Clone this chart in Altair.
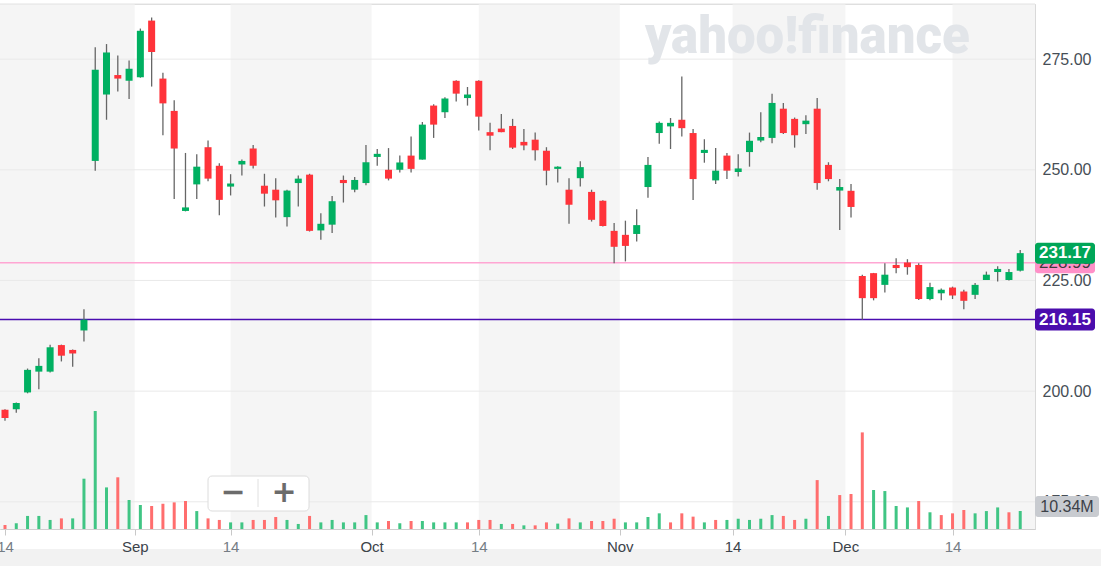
import altair as alt
import pandas as pd

# ---------------- data ----------------
opens = [195.8, 195.9, 199.7, 204.4, 204.4, 210.4, 209.3, 213.7, 252.0, 267.0,
         271.4, 270.1, 270.9, 283.7, 270.6, 263.3, 240.7, 246.7, 255.1, 250.9,
         246.2, 251.2, 254.8, 246.4, 245.5, 239.3, 247.0, 248.9, 236.3, 237.6,
         247.7, 245.5, 247.0, 252.9, 250.0, 250.0, 253.2, 252.3, 264.5, 263.0,
         270.1, 266.2, 270.1, 258.5, 259.3, 259.9, 256.3, 256.8, 254.3, 250.2,
         245.5, 248.1, 245.0, 243.0, 236.2, 235.3, 235.5, 246.1, 258.3, 259.8,
         261.3, 258.3, 253.8, 247.6, 253.2, 249.5, 254.0, 256.6, 257.2, 263.8,
         261.5, 260.3, 263.8, 251.1, 245.3, 245.25, 226.0, 226.65, 224.0, 228.5,
         229.05, 228.5, 220.8, 222.1, 223.4, 222.5, 221.75, 225.1, 226.9, 225.1,
         227.2]
highs = [195.9, 197.4, 205.1, 207.4, 210.5, 210.5, 209.4, 218.5, 277.7, 278.4,
         275.8, 274.7, 281.9, 284.4, 271.9, 265.7, 253.8, 253.5, 256.6, 251.5,
         249.0, 252.3, 255.6, 249.1, 248.1, 245.5, 248.7, 249.1, 240.2, 244.1,
         248.7, 248.35, 255.6, 254.7, 254.9, 253.2, 257.5, 260.8, 264.8, 266.4,
         270.2, 268.7, 270.2, 260.6, 262.6, 261.5, 259.2, 258.4, 255.1, 250.8,
         248.1, 251.9, 245.5, 243.1, 238.0, 238.5, 241.1, 252.9, 260.9, 261.7,
         271.1, 259.2, 256.9, 254.9, 253.8, 253.5, 258.4, 263.0, 267.2, 265.1,
         261.8, 262.3, 266.2, 251.7, 247.9, 246.8, 226.3, 226.7, 228.9, 230.0,
         229.8, 228.9, 224.5, 223.2, 223.6, 222.9, 224.4, 227.0, 228.2, 227.6,
         231.9]
lows = [193.3, 195.1, 199.5, 200.4, 204.2, 206.7, 205.5, 211.2, 249.8, 261.3,
        267.7, 266.0, 270.8, 268.8, 257.8, 243.4, 240.6, 243.4, 247.4, 239.7,
        244.2, 248.7, 250.3, 241.7, 239.2, 237.2, 241.7, 236.05, 234.2, 235.7,
        242.6, 244.9, 246.5, 250.9, 247.6, 249.4, 249.4, 252.3, 257.2, 261.7,
        265.4, 264.5, 258.9, 254.4, 258.5, 254.7, 254.4, 252.1, 246.5, 247.1,
        237.8, 246.2, 238.3, 237.2, 228.9, 229.3, 233.8, 243.7, 255.9, 254.7,
        257.5, 243.2, 251.6, 246.8, 247.9, 248.5, 250.7, 256.2, 256.0, 258.1,
        255.0, 258.1, 245.5, 247.4, 236.4, 239.2, 216.1, 220.5, 222.3, 226.65,
        226.3, 220.6, 220.5, 220.5, 220.8, 218.5, 220.8, 225.1, 224.75, 225.0,
        227.0]
closes = [193.9, 197.3, 204.8, 205.7, 209.9, 208.0, 208.5, 216.15, 272.6, 276.5,
          270.6, 272.8, 281.4, 276.6, 265.0, 254.8, 241.5, 250.7, 248.0, 243.2,
          246.9, 252.0, 250.9, 244.6, 243.1, 245.3, 248.0, 236.2, 237.8, 242.9,
          247.0, 247.7, 251.7, 253.6, 248.0, 251.65, 250.2, 260.2, 260.2, 266.1,
          267.2, 267.0, 262.0, 257.7, 258.5, 255.0, 255.5, 254.4, 249.8, 250.7,
          242.1, 250.6, 238.7, 237.3, 232.6, 232.8, 237.5, 251.1, 260.6, 260.6,
          259.4, 247.9, 254.5, 249.8, 249.8, 250.3, 256.55, 257.4, 265.1, 258.3,
          257.8, 261.1, 247.0, 247.9, 246.1, 241.6, 221.0, 221.0, 226.3, 227.8,
          228.0, 220.8, 223.5, 222.9, 221.6, 220.4, 224.0, 226.3, 227.6, 226.9,
          231.17]
volumes_m = [2.3, 3.3, 7.5, 7.5, 5.2, 6.1, 6.1, 28.9, 67.8, 23.9,
             29.7, 16.7, 13.8, 13.2, 14.5, 15.3, 16.1, 10.3, 6.1, 5.2,
             3.8, 3.8, 5.2, 5.2, 6.9, 5.2, 2.9, 7.5, 3.8, 5.2,
             3.8, 3.8, 8.0, 3.8, 4.6, 3.3, 4.6, 4.6, 3.8, 3.8,
             3.8, 3.8, 5.2, 5.2, 2.9, 2.9, 2.1, 2.1, 3.8, 3.1,
             6.1, 3.8, 4.6, 4.6, 5.9, 3.8, 3.8, 6.9, 9.0, 3.8,
             9.0, 7.1, 3.8, 5.2, 5.2, 5.9, 5.2, 5.9, 8.0, 7.5,
             5.2, 5.9, 28.1, 7.5, 19.5, 20.1, 55.5, 22.4, 21.8, 13.2,
             12.4, 16.1, 9.6, 8.0, 9.0, 10.9, 9.0, 10.3, 12.4, 9.6,
             10.34]
volume_up = [0, 1, 1, 1, 1, 0, 1, 1, 1, 1,
             0, 1, 1, 0, 0, 0, 0, 1, 0, 0,
             1, 1, 0, 0, 0, 1, 1, 0, 1, 1,
             1, 1, 1, 1, 0, 1, 0, 1, 1, 1,
             1, 0, 0, 0, 1, 0, 1, 0, 0, 1,
             0, 1, 0, 0, 0, 1, 1, 1, 1, 0,
             0, 0, 1, 0, 1, 1, 1, 1, 1, 0,
             0, 1, 0, 1, 0, 0, 0, 1, 1, 1,
             1, 0, 1, 0, 0, 0, 1, 1, 1, 0,
             1]

tick_pos = [0, 11.5, 20, 32.5, 42, 54.5, 64.5, 74.5, 84]
tick_text = ["14", "Sep", "14", "Oct", "14", "Nov", "14", "Dec", "14"]
price_ticks = [175, 200, 225, 250, 275]
band_start = [-0.443, 20, 42, 64.5, 84]
band_end = [11.5, 32.5, 54.5, 74.5, 91.31]
ref_levels = [228.99, 216.15]
ref_kinds = ["prev", "level"]
last_price = 231.17
last_volume_label = "10.34M"
watermark_text = "yahoo!finance"

# ---------------- chart geometry / styles ----------------
W, H = 1035, 525
X_DOM = [-0.443, 91.31]
P_DOM = [168.85, 287.45]
V_DOM = [0, 301.6]
UP, DOWN = "#00b061", "#ff333a"
VUP, VDOWN = "#40c584", "#ff6e6e"

XS = alt.Scale(domain=X_DOM, nice=False, zero=False, padding=0)
PS = alt.Scale(domain=P_DOM, nice=False, zero=False, padding=0)
VS = alt.Scale(domain=V_DOM, nice=False, zero=False, padding=0)

n = len(closes)
df = pd.DataFrame({"i": list(range(n)), "o": opens, "h": highs, "l": lows,
                   "c": closes, "v": volumes_m, "vu": volume_up})
one = pd.DataFrame({"a": [0]})

bands = alt.Chart(pd.DataFrame({"s": band_start, "e": band_end})).mark_rect(
    color="#f5f5f5").encode(
    x=alt.X("s:Q", scale=XS, axis=None), x2="e",
    y=alt.value(0), y2=alt.value(H))

bottom_strip = alt.Chart(one).mark_rect(color="#f2f2f2").encode(
    x=alt.value(0), x2=alt.value(W + 66), y=alt.value(545), y2=alt.value(562))

grid = alt.Chart(pd.DataFrame({"p": price_ticks})).mark_rule(
    color="#e9e9e9", strokeWidth=1).encode(
    y=alt.Y("p:Q", scale=PS, axis=alt.Axis(
        orient="right", values=price_ticks, format=".2f", title=None,
        grid=False, ticks=False, labelFontSize=16, labelColor="#464e56",
        labelPadding=7, domainColor="#d9d9d9", labelFont="Liberation Sans")),
    x=alt.value(0), x2=alt.value(W))

top_line = alt.Chart(one).mark_rule(color="#e2e2e2").encode(
    x=alt.value(0), x2=alt.value(W), y=alt.value(0))

watermark = alt.Chart(pd.DataFrame({"t": [watermark_text]})).mark_text(
    align="left", baseline="alphabetic", font="Roboto", fontSize=51,
    fontWeight=900, color="#e2e5e9").encode(
    x=alt.value(645), y=alt.value(49), text="t:N")

label_expr = ("[" + ",".join(f"'{t}'" for t in tick_text) + "][indexof(["
              + ",".join(str(p) for p in tick_pos) + "], datum.value)]")

volume = alt.Chart(df).mark_bar(width=3).encode(
    x=alt.X("i:Q", scale=XS, axis=alt.Axis(
        values=tick_pos, labelExpr=label_expr, title=None, grid=False,
        tickSize=6, tickColor="#c8c8c8", domainColor="#cfcfcf",
        labelFontSize=15, labelPadding=4, labelFlush=False,
        labelOverlap=False, labelFont="Liberation Sans", zindex=1,
        labelColor={"condition": {"test": "datum.value % 1 != 0",
                                  "value": "#3c434a"},
                    "value": "#757d85"})),
    y=alt.Y("v:Q", scale=VS, axis=None),
    color=alt.condition("datum.vu == 1", alt.value(VUP), alt.value(VDOWN)))

ref_lines = alt.Chart(pd.DataFrame({"lv": ref_levels, "k": ref_kinds})).mark_rule(
    strokeWidth=1.5).encode(
    y=alt.Y("lv:Q", scale=PS, axis=None),
    x=alt.value(0), x2=alt.value(W),
    color=alt.Color("k:N", scale=alt.Scale(domain=["prev", "level"],
                                           range=["#ffa6d3", "#4a0cb0"]),
                    legend=None))

wicks = alt.Chart(df).mark_rule(color="#666666", strokeWidth=1.3).encode(
    x=alt.X("i:Q", scale=XS, axis=None),
    y=alt.Y("l:Q", scale=PS, axis=None), y2="h")

bodies = alt.Chart(df).mark_bar(width=7).encode(
    x=alt.X("i:Q", scale=XS, axis=None),
    y=alt.Y("o:Q", scale=PS, axis=None), y2="c",
    color=alt.condition("datum.c >= datum.o", alt.value(UP), alt.value(DOWN)))


def price_tag(value, fill, text_color, bold, half=10.5):
    d = pd.DataFrame({"p": [value], "t": [f"{value:.2f}"]})
    box = alt.Chart(d).mark_rect(color=fill, cornerRadius=3,
                                 yOffset=-half, y2Offset=half).encode(
        x=alt.value(W), x2=alt.value(W + 60),
        y=alt.Y("p:Q", scale=PS, axis=None), y2="p")
    txt = alt.Chart(d).mark_text(align="center", baseline="middle",
                                 fontSize=17, font="Liberation Sans",
                                 fontWeight="bold" if bold else "normal",
                                 color=text_color).encode(
        x=alt.value(W + 30), y=alt.Y("p:Q", scale=PS, axis=None), text="t:N")
    return [box, txt]


vol_df = pd.DataFrame({"v": [volumes_m[-1]], "t": [last_volume_label]})
vol_box = alt.Chart(vol_df).mark_rect(color="#c8cbd0", cornerRadius=3,
                                      yOffset=-15, y2Offset=6).encode(
    x=alt.value(W), x2=alt.value(W + 64),
    y=alt.Y("v:Q", scale=VS, axis=None), y2="v")
vol_txt = alt.Chart(vol_df).mark_text(align="center", baseline="middle",
                                      fontSize=16, font="Liberation Sans",
                                      color="#3c4148", yOffset=-4.5).encode(
    x=alt.value(W + 32), y=alt.Y("v:Q", scale=VS, axis=None), text="t:N")

zoom_box = alt.Chart(one).mark_rect(fill="white", stroke="#dcdcdc",
                                    strokeWidth=1, cornerRadius=4).encode(
    x=alt.value(208), x2=alt.value(309), y=alt.value(472), y2=alt.value(507))
zoom_sep = alt.Chart(one).mark_rule(color="#e0e0e0").encode(
    x=alt.value(258), y=alt.value(475), y2=alt.value(503))
zoom_txt = alt.Chart(pd.DataFrame({"t": ["\u2212", "+"], "x": [233, 284]})).mark_text(
    fontSize=30, fontWeight="bold", color="#6b6b6b", baseline="middle",
    font="DejaVu Sans").encode(
    x=alt.X("x:Q", scale=alt.Scale(domain=[0, W], range=[0, W], padding=0),
            axis=None),
    y=alt.value(489), text="t:N")

layers = [bands, bottom_strip, grid, top_line, watermark, volume, ref_lines,
          wicks, bodies]
layers += price_tag(ref_levels[0], "#ff90c8", "#3a3a3a", False)
layers += price_tag(last_price, "#00a658", "white", True)
layers += price_tag(ref_levels[1], "#4b0dad", "white", True, half=11)
layers += [vol_box, vol_txt, zoom_box, zoom_sep, zoom_txt]

chart = alt.layer(*layers).resolve_scale(
    x="independent", y="independent").properties(
    width=W, height=H,
    autosize=alt.AutoSizeParams(type="none"),
    padding={"left": 0, "top": 4, "right": 66, "bottom": 37},
).configure_view(strokeWidth=0).configure(font="Liberation Sans")

chart.save("out.html", embed_options={"renderer": "svg", "actions": False})
